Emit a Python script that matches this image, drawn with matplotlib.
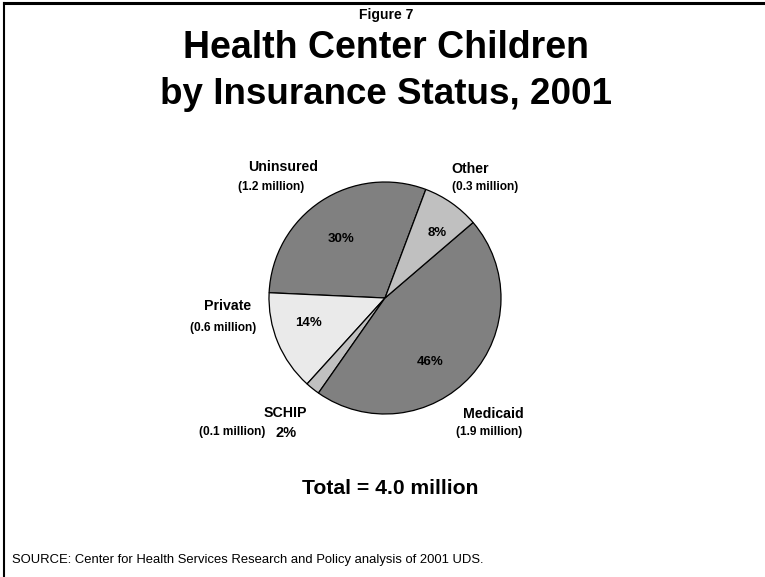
import matplotlib
matplotlib.use("Agg")
import matplotlib.pyplot as plt
from matplotlib.lines import Line2D

categories = ["Uninsured", "Private", "SCHIP", "Medicaid", "Other"]
percents = [30, 14, 2, 46, 8]
millions = ["(1.2 million)", "(0.6 million)", "(0.1 million)", "(1.9 million)", "(0.3 million)"]
colors = ["#808080", "#eaeaea", "#c0c0c0", "#808080", "#c0c0c0"]

W, H = 765, 577
FONT = ["Liberation Sans", "DejaVu Sans"]
plt.rcParams["font.family"] = FONT

fig = plt.figure(figsize=(W / 100, H / 100), dpi=100)
fig.patch.set_facecolor("white")


def px(x, y):
    return x / W, 1 - y / H


def txt(x, y, s, size, weight="bold", ha="center"):
    fx, fy = px(x, y)
    fig.text(fx, fy, s, fontsize=size, fontweight=weight, ha=ha, va="center")


# frame lines (top and left)
fig.add_artist(Line2D([4 / W, 1], [1 - 3 / H, 1 - 3 / H], color="black", lw=2.2, transform=fig.transFigure))
fig.add_artist(Line2D([4 / W, 4 / W], [0, 1 - 3 / H], color="black", lw=1.5, transform=fig.transFigure))

# pie
cx, cy, r = 385, 298, 116
ax = fig.add_axes([(cx - r) / W, (H - cy - r) / H, 2 * r / W, 2 * r / H])
ax.pie(percents, colors=colors, startangle=69.4, counterclock=True,
       wedgeprops=dict(edgecolor="black", linewidth=0.9), radius=1.0)
ax.set_xlim(-1.0, 1.0)
ax.set_ylim(-1.0, 1.0)
ax.set_aspect("equal")
ax.axis("off")

# titles
txt(386, 15, "Figure 7", 10)
txt(386, 48, "Health Center Children", 27)
txt(386, 94, "by Insurance Status, 2001", 26.5)

# category labels
LBL, SUB = 10.2, 8.6
txt(283, 167, categories[0], LBL)
txt(271, 187, millions[0], SUB)
txt(470, 169, categories[4], LBL)
txt(485, 187, millions[4], SUB)
txt(228, 306, categories[1], LBL)
txt(223, 328, millions[1], SUB)
txt(285, 413, categories[2], LBL)
txt(232, 432, millions[2], SUB)
txt(493, 414, categories[3], LBL)
txt(489, 432, millions[3], SUB)

# percentage labels
PCT = 9.5
txt(341, 239, f"{percents[0]}%", PCT)
txt(437, 233, f"{percents[4]}%", PCT)
txt(309, 323, f"{percents[1]}%", PCT)
txt(430, 362, f"{percents[3]}%", PCT)
txt(286, 433, f"{percents[2]}%", 10.5)

txt(390, 488, "Total = 4.0 million", 15.2)
txt(12, 560, "SOURCE: Center for Health Services Research and Policy analysis of 2001 UDS.", 9.4,
    weight="normal", ha="left")

fig.savefig("out.png", dpi=100, facecolor="white")
